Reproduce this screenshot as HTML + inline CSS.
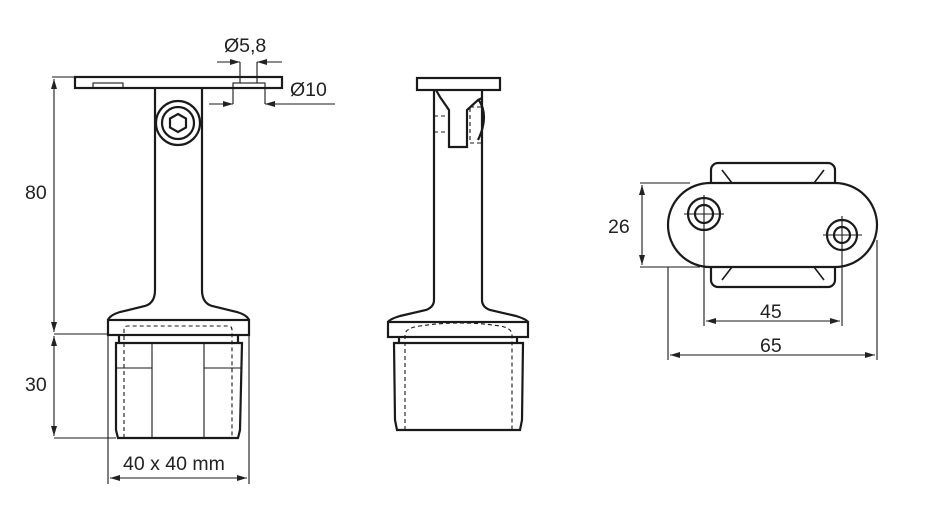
<!DOCTYPE html>
<html><head><style>html,body{margin:0;padding:0;background:#fff}svg{display:block}text{font-family:"Liberation Sans",Arial,sans-serif;font-size:19.5px;fill:#222}</style></head>
<body>
<svg width="933" height="532" viewBox="0 0 933 532" xmlns="http://www.w3.org/2000/svg">
<defs>
<marker id="a" viewBox="0 0 10 6" refX="10" refY="3" markerWidth="11" markerHeight="6" orient="auto-start-reverse" markerUnits="userSpaceOnUse"><path d="M0,0L10,3L0,6z" fill="#222"/></marker>
</defs>
<g fill="none" stroke="#1a1a1a">
<g stroke-width="2.2">
<rect x="75" y="77" width="207" height="11"/>
<path d="M155,88 L155,290 Q155,303 145,306 L120,312 Q110,315 108,320 M202,88 L202,290 Q202,303 212,306 L237,312 Q247,315 249,320"/>
<circle cx="178" cy="123" r="22"/>
<circle cx="178" cy="123" r="16"/>
<polygon points="178,114 186,118.5 186,127.5 178,132 170,127.5 170,118.5"/>
<rect x="108" y="320" width="141" height="15"/>
<path d="M119,335 L119,343 M238,335 L238,343"/>
<path d="M116,343 L242,343 L240,430 L238,438 L118,438 L116,430 Z"/>
</g>
<g stroke-width="1.1">
<rect x="93" y="83" width="30" height="5"/>
<rect x="233" y="83" width="32" height="5"/>
<path d="M152,343V438M204,343V438M116,368H152M204,368H242"/>
<path d="M124,438V330Q124,326 128,326H228Q232,326 232,330V438" stroke-dasharray="4,3"/>
<path d="M52,77H75M54,334H108M54,438H116M108,335V484M249,335V484M240,62V83M257,62V83M233,88V104M265,88V104"/>
<path d="M54,79V332" marker-start="url(#a)" marker-end="url(#a)"/>
<path d="M54,336V436" marker-start="url(#a)" marker-end="url(#a)"/>
<path d="M110,478H247" marker-start="url(#a)" marker-end="url(#a)"/>
<path d="M217,62H240" marker-end="url(#a)"/><path d="M282,62H257" marker-end="url(#a)"/>
<path d="M209,104H233" marker-end="url(#a)"/><path d="M335,104H265" marker-end="url(#a)"/>
</g>
<g stroke-width="2.2">
<rect x="417" y="78" width="83" height="12"/>
<path d="M434,90V300Q434,307 426,310L400,316Q390,319 388,322M482,90V300Q482,307 490,310L516,316Q526,319 528,322"/>
<path d="M436,90L440,97L449,110V147H467V110L478,100L482,98"/>
<path d="M478,99Q490,115 478,140"/>
<rect x="388" y="322" width="140" height="15"/>
<path d="M399,337V343M517,337V343"/>
<path d="M394,343H523L522,420L520,430H397L395,420Z"/>
</g>
<g stroke-width="1.1" stroke-dasharray="4,3">
<path d="M434,116H449M434,132H449"/>
<rect x="470" y="107" width="12" height="36"/>
<path d="M405,430V335Q405,328 420,326Q460,320 500,326Q512,328 512,335V430"/>
</g>
<g stroke-width="2.2">
<rect x="711" y="163" width="124" height="124" rx="7"/>
<path d="M722,170L732,183M824,170L814,183M722,280L732,267M824,280L814,267" stroke-width="1.6"/>
<rect x="668" y="183" width="209" height="84" rx="42" fill="#fff"/>
<circle cx="704" cy="214" r="16"/><circle cx="704" cy="214" r="9"/>
<circle cx="842" cy="235" r="15"/><circle cx="842" cy="235" r="8"/>
</g>
<g stroke-width="1.1">
<path d="M684,214H724M704,195V233M823,235H862M842,216V254"/>
<path d="M640,183H690M640,267H700M704,233V326M842,254V326M668,267V360M877,240V360"/>
<path d="M642,185V265" marker-start="url(#a)" marker-end="url(#a)"/>
<path d="M706,321H840" marker-start="url(#a)" marker-end="url(#a)"/>
<path d="M670,355H875" marker-start="url(#a)" marker-end="url(#a)"/>
</g>
</g>
<text x="25" y="199">80</text>
<text x="25" y="391">30</text>
<text x="123" y="470">40 x 40 mm</text>
<text x="224" y="52">Ø5,8</text>
<text x="290" y="96">Ø10</text>
<text x="608" y="233">26</text>
<text x="760" y="318">45</text>
<text x="760" y="352">65</text>
</svg>
</body></html>
